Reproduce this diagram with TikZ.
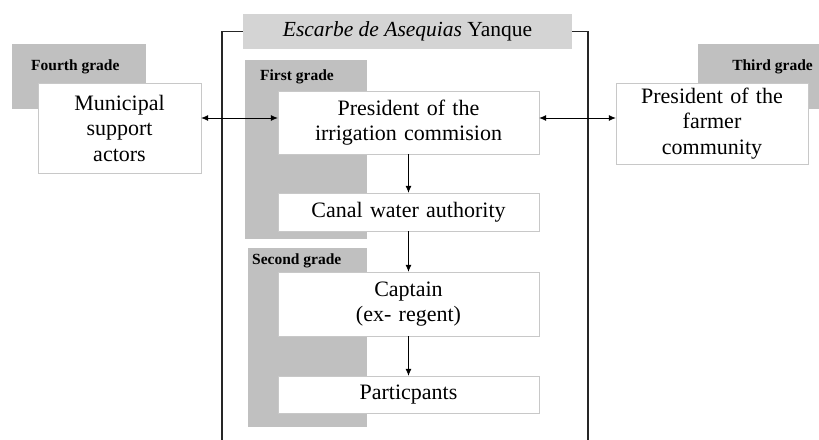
\documentclass[tikz,border=0pt]{standalone}
\usepackage{fontspec}
\setmainfont{Liberation Serif}
\usetikzlibrary{positioning, arrows.meta}
\definecolor{gradegrey}{RGB}{192,192,192}
\definecolor{titlegrey}{RGB}{212,212,212}
\definecolor{edgegrey}{RGB}{200,200,200}
\tikzset{
  x=1pt, y=-1pt,
  gradebox/.style={rectangle, fill=gradegrey, inner sep=0pt}, % grey panel behind each grade
  gradelabel/.style={font=\fontsize{15.5}{17}\selectfont\bfseries, inner sep=0pt},
  actor/.style={rectangle, draw=edgegrey, fill=white, text width=250pt, align=center, inner sep=0pt,
    font=\fontsize{22}{25.5}\selectfont}, % white boxes for the actors
  link/.style={-{Latex[length=7pt,width=6pt]}, line width=0.8pt},
  frame/.style={draw=black!85, line width=1.2pt}
}
\begin{document}
\begin{tikzpicture}
  \useasboundingbox (0,0) rectangle (819,439);

  % grey grade panels
  \node[gradebox, minimum width=134pt, minimum height=65pt] (fourth) at (79,76.5) {};
  \node[gradebox, minimum width=127pt, minimum height=65pt] (third) at (761.5,76.5) {};
  \node[gradebox, minimum width=122pt, minimum height=179pt] (first) at (306,149.5) {};
  \node[gradebox, minimum width=119pt, minimum height=179pt] (second) at (307.5,337.5) {};

  \node[gradelabel, anchor=west] (fourthlbl) at (31,67) {Fourth grade};
  \node[gradelabel, anchor=east] (thirdlbl) at (813,67) {Third grade};
  \node[gradelabel, anchor=west] (firstlbl) at (260,77) {First grade};
  \node[gradelabel, anchor=west] (secondlbl) at (252,261) {Second grade};

  % title and frame
  \node[rectangle, fill=titlegrey, minimum width=329pt, minimum height=35pt, inner sep=0pt,
    font=\fontsize{21.5}{24}\selectfont] (title) at (407.5,31.5) {\textit{Escarbe de Asequias} Yanque};
  \coordinate (framebl) at (222,441);
  \coordinate (framebr) at (588,441);
  \draw[frame] (title.west) -| (framebl);
  \draw[frame] (title.east) -| (framebr);

  % actors
  \node[actor, minimum width=261pt, minimum height=63pt] (irrig) at (408.5,122.5) {President of the\\irrigation commision};
  \node[actor, minimum width=261pt, minimum height=38pt] (canal) at (408.5,212) {Canal water authority};
  \node[actor, minimum width=261pt, minimum height=64pt] (captain) at (408.5,304) {Captain\\(ex- regent)};
  \node[actor, minimum width=261pt, minimum height=37pt] (partic) at (408.5,394.5) {Particpants};
  \node[actor, text width=155pt, minimum width=163pt, minimum height=90pt] (muni) at (119.5,128) {Municipal\\support\\actors};
  \node[actor, text width=185pt, minimum width=192pt, minimum height=81pt] (farmer) at (712,123.5) {President of the\\farmer\\community};

  \draw[link, {Latex[length=7pt,width=6pt]}-{Latex[length=7pt,width=6pt]}]
    (muni.east |- 0,118) -- ([yshift=4.5pt]irrig.west);
  \draw[link, {Latex[length=7pt,width=6pt]}-{Latex[length=7pt,width=6pt]}]
    ([yshift=4.5pt]irrig.east) -- (farmer.west |- 0,118);
  \draw[link] (irrig) -- (canal);
  \draw[link] (canal) -- (captain);
  \draw[link] (captain) -- (partic);
\end{tikzpicture}
\end{document}
